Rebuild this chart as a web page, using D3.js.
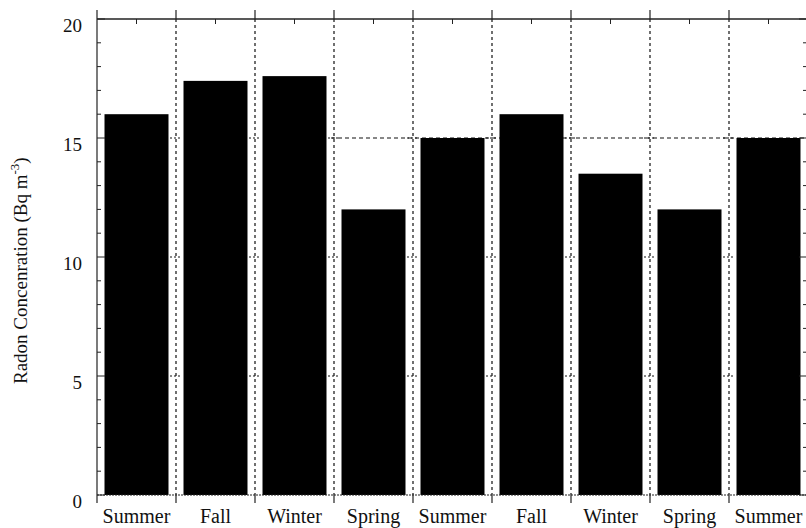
<!DOCTYPE html>
<html>
<head>
<meta charset="utf-8">
<script src="https://cdn.jsdelivr.net/npm/d3@7"></script>
<style>
  html, body { margin: 0; padding: 0; background: #fff; }
  svg { display: block; }
  text { font-family: "Liberation Serif", "Times New Roman", serif; fill: #111; }
</style>
</head>
<body>
<script>
// Seasonal radon concentration
const seasons = ["Summer", "Fall", "Winter", "Spring", "Summer", "Fall", "Winter", "Spring", "Summer"];
const radon = [16.0, 17.4, 17.6, 12.0, 15.0, 16.0, 13.5, 12.0, 15.0];
const yTickValues = [0, 5, 10, 15, 20];
const yMinorValues = d3.range(0, 21, 1);
const yLabel = "Radon Concenration (Bq m";
const yLabelSup = "-3";

const W = 806, H = 528;
const plotL = 97, plotR = 808, plotT = 19, plotB = 495;

const svg = d3.select("body").append("svg").attr("width", W).attr("height", H);

const x = d3.scaleBand()
  .domain(d3.range(seasons.length))
  .range([plotL, plotR])
  .paddingInner(0.19)
  .paddingOuter(0.095);

const y = d3.scaleLinear().domain([0, 20]).range([plotB, plotT]);

const step = x.step();
const boundaries = d3.range(seasons.length + 1).map(i => plotL + i * step);
const innerBounds = boundaries.slice(1, -1);

// vertical dashed grid at category boundaries
svg.append("g").selectAll("line").data(innerBounds).join("line")
  .attr("x1", d => d).attr("x2", d => d)
  .attr("y1", plotT).attr("y2", plotB)
  .attr("stroke", "#111").attr("stroke-width", 1.2)
  .attr("stroke-dasharray", "3,3");

// horizontal dashed grid at 15 over the right part
svg.append("line")
  .attr("x1", boundaries[3] - 3).attr("x2", plotR)
  .attr("y1", y(15)).attr("y2", y(15))
  .attr("stroke", "#111").attr("stroke-width", 1.2)
  .attr("stroke-dasharray", "4,3");

// small crosses where the grid meets the major values
const crossPts = [];
innerBounds.forEach(bx => [5, 10, 15].forEach(v => crossPts.push([bx, v])));
svg.append("g").selectAll("line").data(crossPts).join("line")
  .attr("x1", d => d[0] - 6).attr("x2", d => d[0] + 6)
  .attr("y1", d => y(d[1])).attr("y2", d => y(d[1]))
  .attr("stroke", "#111").attr("stroke-width", 1.2)
  .attr("stroke-dasharray", "2,2");

// bars
svg.append("g").selectAll("rect").data(radon).join("rect")
  .attr("x", (d, i) => x(i))
  .attr("width", x.bandwidth())
  .attr("y", d => y(d))
  .attr("height", d => y(0) - y(d))
  .attr("fill", "#000");

// frame
const frame = svg.append("g").attr("stroke", "#222").attr("fill", "none");
frame.append("line").attr("x1", plotL).attr("x2", plotR).attr("y1", plotT).attr("y2", plotT).attr("stroke-width", 1.5);
frame.append("line").attr("x1", plotL).attr("x2", plotR).attr("y1", plotB).attr("y2", plotB)
  .attr("stroke-width", 1.2).attr("stroke-dasharray", "2,1");
frame.append("line").attr("x1", plotL).attr("x2", plotL).attr("y1", plotT).attr("y2", plotB).attr("stroke-width", 1.2);
frame.append("line").attr("x1", plotR - 1).attr("x2", plotR - 1).attr("y1", plotT).attr("y2", plotB).attr("stroke-width", 1.2);

// boundary ticks pointing outward on top and bottom
frame.selectAll(".bt").data(boundaries).join("line")
  .attr("x1", d => d).attr("x2", d => d)
  .attr("y1", plotT - 9).attr("y2", plotT).attr("stroke-width", 1.2);
frame.selectAll(".bb").data(boundaries).join("line")
  .attr("x1", d => d).attr("x2", d => d)
  .attr("y1", plotB).attr("y2", plotB + 8).attr("stroke-width", 1.2);
// centre ticks on top pointing inward
frame.selectAll(".ct").data(d3.range(seasons.length)).join("line")
  .attr("x1", i => x(i) + x.bandwidth() / 2).attr("x2", i => x(i) + x.bandwidth() / 2)
  .attr("y1", plotT).attr("y2", plotT + 5).attr("stroke-width", 1);

// y ticks, both sides, inward
yMinorValues.forEach(v => {
  const len = yTickValues.includes(v) ? 8 : 4;
  frame.append("line").attr("x1", plotL).attr("x2", plotL + len)
    .attr("y1", y(v)).attr("y2", y(v)).attr("stroke-width", 1);
  frame.append("line").attr("x1", plotR - 1).attr("x2", plotR - 1 - len)
    .attr("y1", y(v)).attr("y2", y(v)).attr("stroke-width", 1);
});

// y tick labels
svg.append("g").selectAll("text").data(yTickValues).join("text")
  .attr("x", 82).attr("y", d => y(d) + 13)
  .attr("text-anchor", "end")
  .attr("font-size", 19)
  .text(d => d);

// category labels
svg.append("g").selectAll("text").data(seasons).join("text")
  .attr("x", (d, i) => x(i) + x.bandwidth() / 2)
  .attr("y", 523)
  .attr("text-anchor", "middle")
  .attr("font-size", 20)
  .text(d => d);

// y axis title
const yt = svg.append("text")
  .attr("transform", "translate(27,384) rotate(-90)")
  .attr("font-size", 19);
yt.append("tspan").text(yLabel);
yt.append("tspan").attr("dy", -8).attr("font-size", 13).text(yLabelSup);
yt.append("tspan").attr("dy", 8).text(")");
</script>
</body>
</html>
